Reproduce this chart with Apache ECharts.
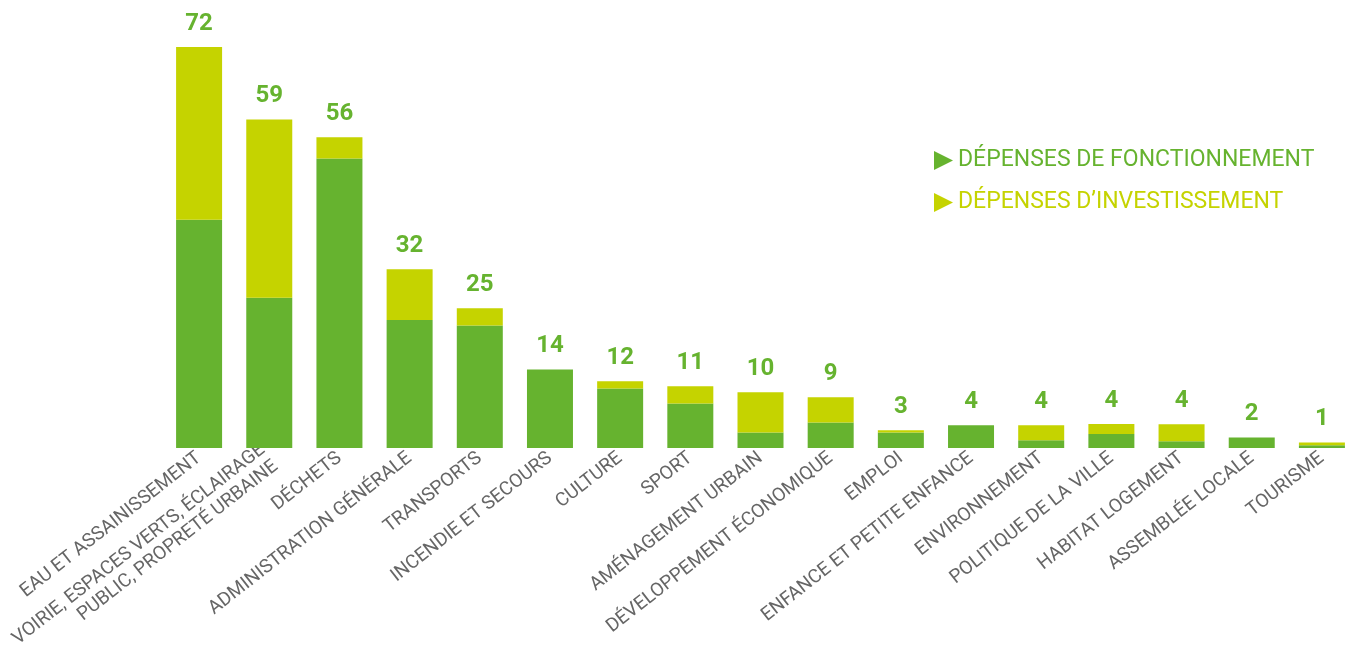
<!DOCTYPE html>
<html>
<head>
<meta charset="utf-8">
<script src="https://cdn.jsdelivr.net/npm/echarts@6/dist/echarts.min.js"></script>
<style>
html,body{margin:0;padding:0;background:#fff;overflow:hidden;width:1349px;height:655px;}
#chart{width:1362px;height:655px;}
</style>
</head>
<body>
<div id="chart"></div>
<script>
const categories = [
  "EAU ET ASSAINISSEMENT",
  "VOIRIE, ESPACES VERTS, ÉCLAIRAGE\nPUBLIC, PROPRETÉ URBAINE",
  "DÉCHETS",
  "ADMINISTRATION GÉNÉRALE",
  "TRANSPORTS",
  "INCENDIE ET SECOURS",
  "CULTURE",
  "SPORT",
  "AMÉNAGEMENT URBAIN",
  "DÉVELOPPEMENT ÉCONOMIQUE",
  "EMPLOI",
  "ENFANCE ET PETITE ENFANCE",
  "ENVIRONNEMENT",
  "POLITIQUE DE LA VILLE",
  "HABITAT LOGEMENT",
  "ASSEMBLÉE LOCALE",
  "TOURISME"
];
const fonctionnement = [41, 27, 52, 23, 22, 14.1, 10.7, 8, 2.8, 4.6, 2.8, 4.1, 1.4, 2.5, 1.2, 1.9, 0.5];
const investissement = [31, 32, 3.8, 9.1, 3.1, 0, 1.3, 3.1, 7.2, 4.5, 0.4, 0, 2.7, 1.8, 3.05, 0, 0.5];
const totals = [72, 59, 56, 32, 25, 14, 12, 11, 10, 9, 3, 4, 4, 4, 4, 2, 1];

const GREEN = '#66b32f';
const YELLOW = '#c5d300';
const tri = 'path://M0,0 L10,5 L0,10 Z';

const chart = echarts.init(document.getElementById('chart'));
chart.setOption({
  animation: false,
  textStyle: {fontFamily: 'Roboto'},
  grid: {left: 164, width: 1193, top: 47, bottom: 207, containLabel: false, outerBoundsMode: 'none'},
  legend: {
    orient: 'vertical',
    left: 929,
    top: 144,
    itemWidth: 19,
    itemHeight: 21,
    itemGap: 19,
    icon: tri,
    textStyle: {fontSize: 23, fontFamily: 'Roboto', padding: [0, 0, 0, 0]},
    data: [
      {name: 'DÉPENSES DE FONCTIONNEMENT', textStyle: {color: GREEN}},
      {name: 'DÉPENSES D’INVESTISSEMENT', textStyle: {color: YELLOW}}
    ]
  },
  xAxis: {
    type: 'category',
    data: categories,
    axisLine: {show: false},
    axisTick: {show: false},
    axisLabel: {
      rotate: 38,
      interval: 0,
      margin: 8,
      color: '#666',
      fontSize: 19,
      lineHeight: 21,
      fontFamily: 'Roboto'
    }
  },
  yAxis: {type: 'value', min: 0, max: 72, show: false, splitLine: {show: false}},
  series: [
    {
      name: 'DÉPENSES DE FONCTIONNEMENT',
      type: 'bar',
      stack: 'total',
      barWidth: 46,
      itemStyle: {color: GREEN},
      data: fonctionnement
    },
    {
      name: 'DÉPENSES D’INVESTISSEMENT',
      type: 'bar',
      stack: 'total',
      barWidth: 46,
      itemStyle: {color: YELLOW},
      label: {
        show: true,
        position: 'top',
        distance: 11,
        formatter: p => totals[p.dataIndex],
        color: GREEN,
        fontSize: 24,
        fontWeight: 'bold',
        fontFamily: 'Roboto'
      },
      data: investissement
    }
  ]
});
</script>
</body>
</html>
